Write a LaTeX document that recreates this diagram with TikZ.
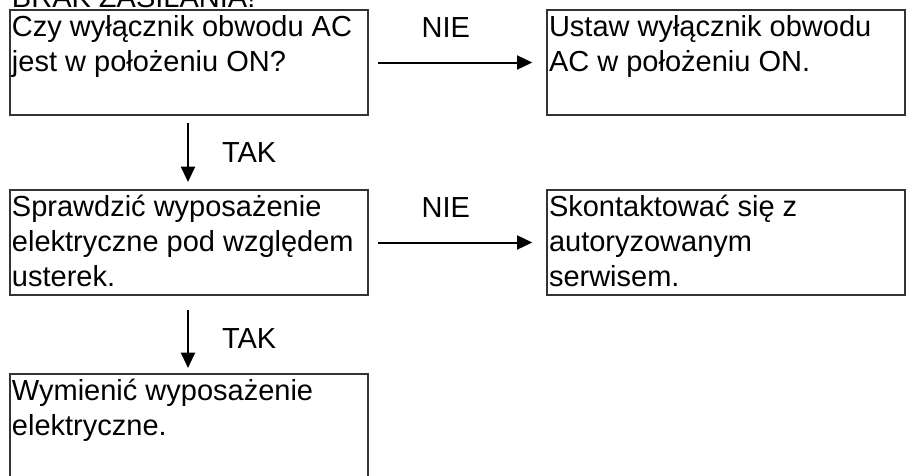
\documentclass[tikz,border=0pt]{standalone}
\usepackage{fontspec}
\setmainfont{Liberation Sans}
\usepackage{tikz}
\usetikzlibrary{arrows.meta, positioning}
% tekst bloku: wyrównany do góry, stała wysokość ramki
\newcommand{\tekstbloku}[1]{\parbox[c][75.75pt][t]{265.5pt}{\raggedright\strut #1}}

\begin{document}
\begin{tikzpicture}[
        x=0.75pt, y=-0.75pt,
        font=\fontsize{21.75pt}{26.25pt}\selectfont,
        % ramki kroków: 358 x 105 px
        blok/.style={rectangle, draw=black!80, line width=1.3pt,
                     anchor=north west, outer sep=0pt,
                     inner xsep=1.5pt, inner ysep=1.5pt,
                     minimum width=268.5pt, minimum height=78.75pt},
        strzalka/.style={-{Triangle[length=11.5pt, width=10.5pt]},
                         draw=black, line width=1.5pt},
        etykieta/.style={inner sep=0pt, outer sep=0pt}
    ]
        \useasboundingbox (0,0) rectangle (906,475);
        \clip (0,0) rectangle (906,475);

        \node[etykieta, anchor=base west] (tytul) at (12,7) {BRAK ZASILANIA!};

        \node[blok] (pytanie1) at (10,10)   {\tekstbloku{Czy wyłącznik obwodu AC\\jest w położeniu ON?}};
        \node[blok] (ustaw)    at (547,10)  {\tekstbloku{Ustaw wyłącznik obwodu\\AC w położeniu ON.}};
        \node[blok] (pytanie2) at (10,190)  {\tekstbloku{Sprawdzić wyposażenie\\elektryczne pod względem\\usterek.}};
        \node[blok] (serwis)   at (547,190) {\tekstbloku{Skontaktować się z\\autoryzowanym\\serwisem.}};
        \node[blok] (wymien)   at (10,374)  {\tekstbloku{Wymienić wyposażenie\\elektryczne.}};

        \draw[strzalka] ([xshift=7.5pt]pytanie1.east) -- ([xshift=-11pt]ustaw.west)
            node[etykieta, midway, above=18.75pt, xshift=-7pt] (nie1) {NIE};
        \draw[strzalka] ([xshift=7.5pt]pytanie2.east) -- ([xshift=-11pt]serwis.west)
            node[etykieta, midway, above=18.75pt, xshift=-7pt] (nie2) {NIE};

        \draw[strzalka] ([xshift=-0.75pt, yshift=-6pt]pytanie1.south) -- ([xshift=-0.75pt, yshift=6pt]pytanie2.north)
            node[etykieta, midway, right=25.5pt] (tak1) {TAK};
        \draw[strzalka] ([xshift=-0.75pt, yshift=-11.25pt]pytanie2.south) -- ([xshift=-0.75pt, yshift=4.5pt]wymien.north)
            node[etykieta, midway, right=25.5pt] (tak2) {TAK};
    \end{tikzpicture}
\end{document}
